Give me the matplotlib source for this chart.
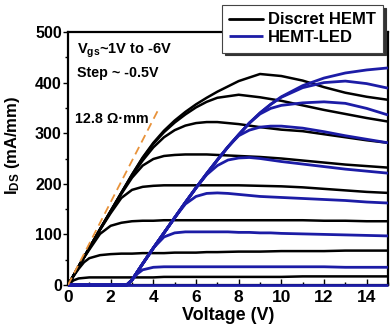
import matplotlib
matplotlib.use("Agg")
import matplotlib.pyplot as plt
from matplotlib.ticker import MultipleLocator

# ---------------- data ----------------
v_black = [0, 0.25, 0.5, 0.75, 1, 1.5, 2, 2.5, 3, 3.5, 4, 4.5, 5, 5.5, 6, 6.5, 7, 8, 9, 10, 11, 12, 13, 14, 15]
black_b1 = [0, 9, 13, 14, 15, 15, 15, 15, 15, 15, 15, 16, 16, 16, 16, 16, 16, 16, 16, 16, 17, 17, 17, 17, 17]
black_b2 = [0, 17, 32, 45, 53, 59, 61, 62, 62, 63, 63, 63, 64, 64, 64, 65, 65, 66, 66, 67, 67, 67, 68, 68, 68]
black_b3 = [0, 18, 36, 54, 70, 101, 117, 123, 126, 127, 127, 128, 128, 128, 128, 128, 128, 128, 128, 128, 128, 127, 127, 126, 126]
black_b4 = [0, 18, 37, 55, 73, 109, 142, 172, 188, 194, 196, 197, 197, 197, 197, 197, 197, 197, 196, 195, 193, 190, 187, 184, 182]
black_b5 = [0, 18, 37, 55, 73, 110, 145, 180, 212, 236, 249, 255, 257, 258, 258, 258, 257, 255, 253, 250, 246, 242, 238, 235, 232]
black_b6 = [0, 18, 37, 55, 73, 110, 146, 182, 216, 246, 272, 292, 306, 315, 320, 322, 322, 318, 312, 307, 304, 298, 292, 286, 281]
black_b7 = [0, 18, 37, 55, 73, 110, 146, 182, 218, 251, 279, 302, 321, 337, 351, 362, 370, 376, 371, 364, 355, 346, 338, 330, 323]
black_b8 = [0, 18, 37, 55, 73, 110, 146, 182, 218, 252, 281, 305, 325, 342, 357, 370, 382, 403, 417, 413, 404, 391, 380, 372, 366]

v_blue = [0, 2.5, 2.75, 3, 3.25, 3.5, 4, 4.5, 5, 5.5, 6, 6.5, 7, 7.5, 8, 8.5, 9, 9.5, 10, 11, 12, 13, 14, 15]
blue_l1 = [0, 0, 0, 0, 0, 0, 0, 0, 0, 0, 0, 0, 0, 0, 0, 0, 0, 0, 0, 0, 0, 0, 0, 0]
blue_l2 = [0, 0, 0, 10, 22, 30, 35, 36, 36, 36, 36, 36, 36, 36, 36, 36, 36, 36, 36, 36, 36, 35, 35, 35]
blue_l3 = [0, 0, 0, 10, 26, 42, 73, 95, 103, 105, 105, 105, 105, 105, 104, 104, 103, 103, 102, 101, 100, 99, 98, 97]
blue_l4 = [0, 0, 0, 10, 26, 42, 73, 103, 133, 160, 175, 181, 182, 181, 179, 177, 175, 174, 173, 171, 169, 167, 164, 162]
blue_l5 = [0, 0, 0, 10, 26, 42, 73, 103, 133, 163, 192, 218, 236, 247, 251, 252, 250, 247, 244, 239, 234, 229, 225, 221]
blue_l6 = [0, 0, 0, 10, 26, 42, 73, 103, 133, 163, 192, 220, 247, 273, 295, 306, 312, 314, 314, 310, 303, 295, 288, 281]
blue_l7 = [0, 0, 0, 10, 26, 42, 73, 103, 133, 163, 192, 220, 247, 273, 297, 320, 338, 349, 355, 360, 362, 359, 349, 336]
blue_l8 = [0, 0, 0, 10, 26, 42, 73, 103, 133, 163, 192, 220, 247, 273, 297, 320, 340, 357, 371, 390, 400, 403, 398, 389]
blue_l9 = [0, 0, 0, 10, 26, 42, 73, 103, 133, 163, 192, 220, 247, 273, 297, 320, 340, 357, 372, 394, 409, 419, 425, 429]

ron_v = [0, 4.3]
ron_i = [0, 352]

series_labels = ["Discret HEMT", "HEMT-LED"]
x_ticks = [0, 2, 4, 6, 8, 10, 12, 14]
y_ticks = [0, 100, 200, 300, 400, 500]

# ---------------- style ----------------
plt.rcParams.update({
    "font.family": ["Liberation Sans", "DejaVu Sans"],
    "font.weight": "bold",
    "axes.labelweight": "bold",
    "mathtext.fontset": "custom",
    "mathtext.rm": "Liberation Sans:bold",
    "mathtext.it": "Liberation Sans:bold",
    "mathtext.bf": "Liberation Sans:bold",
})

BLUE = "#1c1ca6"
ORANGE = "#e8923a"

fig = plt.figure(figsize=(3.9, 3.33), dpi=100)
ax = fig.add_axes([68 / 390, 48 / 333, 320 / 390, 253 / 333])

blacks = [black_b1, black_b2, black_b3, black_b4, black_b5, black_b6, black_b7, black_b8]
blues = [blue_l1, blue_l2, blue_l3, blue_l4, blue_l5, blue_l6, blue_l7, blue_l8, blue_l9]

h_black = None
for curve in blacks:
    (h_black,) = ax.plot(v_black, curve, color="black", lw=1.8, zorder=3,
                         solid_joinstyle="round", solid_capstyle="round")
h_blue = None
for curve in blues:
    (h_blue,) = ax.plot(v_blue, curve, color=BLUE, lw=2.0, zorder=4, clip_on=False,
                        solid_joinstyle="round", solid_capstyle="butt")

ax.plot(ron_v, ron_i, color=ORANGE, lw=1.3, dashes=(4.6, 2.8), zorder=5)

ax.set_xlim(0, 15)
ax.set_ylim(0, 500)
ax.set_xticks(x_ticks)
ax.set_yticks(y_ticks)
ax.xaxis.set_minor_locator(MultipleLocator(1))
ax.yaxis.set_minor_locator(MultipleLocator(50))
ax.tick_params(axis="x", which="major", direction="in", length=4, width=1, labelsize=12.5, pad=3.5)
ax.tick_params(axis="x", which="minor", direction="in", length=2.2, width=1)
ax.tick_params(axis="y", which="major", direction="out", length=3.5, width=1, labelsize=11.5, pad=1)
ax.tick_params(axis="y", which="minor", direction="out", length=2, width=1)
for s in ax.spines.values():
    s.set_linewidth(1.6)

ax.set_xlabel("Voltage (V)", fontsize=13, labelpad=1.5)
ax.set_ylabel("I$_{DS}$ (mA/mm)", fontsize=12)
ax.yaxis.set_label_coords(-0.145, 0.55)

ax.text(0.42, 458, "V$_{gs}$~1V to -6V", fontsize=10.5, va="baseline", ha="left")
ax.text(0.42, 411, "Step ~ -0.5V", fontsize=10.3, va="baseline", ha="left")
ax.text(0.33, 320, "12.8 \u03a9\u00b7mm", fontsize=10.3, va="baseline", ha="left")

leg = fig.legend([h_black, h_blue], series_labels, loc="upper right",
                 bbox_to_anchor=(383 / 390, 1 - 5 / 333), bbox_transform=fig.transFigure,
                 fontsize=12, frameon=True, fancybox=False, borderaxespad=0,
                 handlelength=2.0, handletextpad=0.3, borderpad=0.45, labelspacing=0.15,
                 shadow={"ox": 2, "oy": -2, "color": "#333333", "alpha": 1})
leg.get_frame().set_edgecolor("#444444")
leg.get_frame().set_linewidth(0.8)
leg.get_frame().set_facecolor("white")
for line in leg.get_lines():
    line.set_linewidth(2.0)

fig.savefig("out.png", dpi=100)
